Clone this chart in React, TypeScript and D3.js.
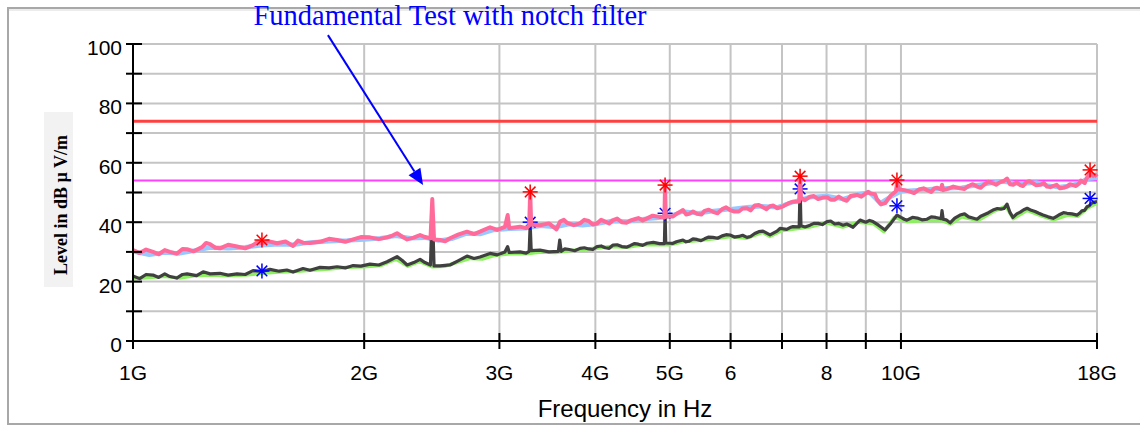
import React from 'react';
import * as d3 from 'd3';

// frequency in GHz, level in dBµV/m
const peakNotch: [number, number][] = [
  [1.0, 30.6], [1.02, 29.6], [1.04, 30.8], [1.062, 30.0], [1.08, 29.2], [1.1, 30.6], [1.117, 30.0],
  [1.14, 29.4], [1.16, 31.0], [1.176, 30.9], [1.2, 30.2], [1.23, 31.6], [1.245, 33.0], [1.26, 32.6],
  [1.28, 31.4], [1.298, 31.2], [1.33, 32.4], [1.366, 31.8], [1.4, 31.2], [1.433, 32.3], [1.455, 33.4],
  [1.472, 32.9], [1.5, 33.6], [1.54, 32.9], [1.58, 33.5], [1.616, 32.0], [1.64, 33.8], [1.665, 33.1],
  [1.7, 33.0], [1.752, 33.4], [1.8, 34.4], [1.844, 34.0], [1.89, 33.4], [1.935, 34.2], [1.98, 35.0],
  [2.035, 34.9], [2.09, 34.3], [2.142, 34.9], [2.18, 35.6], [2.207, 36.3], [2.24, 35.2], [2.275, 34.2],
  [2.32, 34.8], [2.365, 35.7], [2.4, 35.0], [2.44, 34.6], [2.453, 47.8], [2.466, 34.2], [2.511, 34.0],
  [2.55, 33.6], [2.587, 34.6], [2.65, 35.8], [2.722, 36.8], [2.78, 36.0], [2.83, 36.8], [2.917, 38.3],
  [2.98, 37.4], [3.05, 38.4], [3.075, 42.4], [3.09, 38.0], [3.191, 38.5], [3.25, 38.0], [3.28, 38.8],
  [3.29, 50.2], [3.3, 39.2], [3.388, 39.0], [3.48, 39.6], [3.52, 38.6], [3.56, 37.6], [3.598, 40.2],
  [3.64, 40.8], [3.674, 39.8], [3.75, 39.0], [3.82, 39.6], [3.87, 40.8], [3.92, 40.4], [3.97, 39.2],
  [4.02, 39.6], [4.07, 40.8], [4.12, 40.2], [4.17, 39.6], [4.218, 40.7], [4.27, 41.2], [4.33, 40.0],
  [4.39, 39.8], [4.438, 40.5], [4.5, 41.0], [4.55, 41.4], [4.61, 40.6], [4.67, 41.3], [4.75, 42.2],
  [4.85, 41.8], [4.92, 41.6], [4.93, 52.5], [4.94, 42.0], [5.049, 41.9], [5.1, 42.8], [5.202, 44.1],
  [5.25, 42.6], [5.3, 42.8], [5.36, 43.6], [5.425, 42.8], [5.5, 42.6], [5.55, 43.8], [5.62, 44.2],
  [5.692, 43.5], [5.77, 43.0], [5.85, 44.4], [5.92, 45.0], [5.99, 44.1], [6.07, 43.6], [6.15, 43.6],
  [6.22, 44.6], [6.302, 44.7], [6.37, 44.0], [6.45, 45.6], [6.53, 45.8], [6.612, 45.0], [6.68, 44.4],
  [6.75, 45.4], [6.82, 45.6], [6.896, 44.7], [6.97, 45.0], [7.05, 45.6], [7.14, 46.4], [7.235, 46.9],
  [7.37, 47.0], [7.39, 55.8], [7.41, 48.2], [7.5, 47.4], [7.614, 48.6], [7.7, 48.8], [7.8, 47.8],
  [7.9, 48.2], [8.012, 48.4], [8.1, 47.6], [8.2, 47.6], [8.3, 48.6], [8.406, 47.7], [8.5, 47.2],
  [8.6, 48.8], [8.68, 49.0], [8.767, 49.2], [8.88, 48.6], [9.0, 49.7], [9.06, 50.2], [9.116, 49.7],
  [9.25, 49.4], [9.309, 47.6], [9.42, 46.0], [9.535, 46.4], [9.7, 49.0], [9.85, 50.4], [9.883, 53.2],
  [9.95, 51.0], [10.1, 50.8], [10.276, 50.3], [10.4, 49.8], [10.55, 51.0], [10.7, 51.4], [10.813, 50.8],
  [10.95, 50.2], [11.05, 51.4], [11.15, 51.6], [11.28, 51.0], [11.31, 52.6], [11.35, 50.8], [11.5, 51.2],
  [11.7, 52.0], [11.937, 51.4], [12.1, 51.2], [12.25, 52.2], [12.4, 52.8], [12.561, 52.0], [12.7, 51.6],
  [12.85, 52.8], [13.0, 53.6], [13.177, 53.1], [13.3, 52.6], [13.45, 53.4], [13.6, 53.8], [13.743, 54.7],
  [13.87, 52.8], [14.0, 52.6], [14.15, 53.4], [14.289, 52.5], [14.42, 52.2], [14.55, 53.4], [14.7, 53.8],
  [14.857, 53.1], [15.0, 52.4], [15.2, 52.6], [15.35, 53.2], [15.495, 52.0], [15.65, 51.8], [15.8, 52.2],
  [15.95, 52.6], [16.111, 51.4], [16.28, 51.6], [16.45, 52.0], [16.6, 52.8], [16.752, 52.5], [16.9, 52.2],
  [17.05, 53.0], [17.15, 54.0], [17.262, 53.6], [17.35, 53.2], [17.45, 54.8], [17.55, 55.6], [17.628, 57.0],
  [17.8, 55.6], [17.9, 56.0], [18.0, 55.3],
];

const peakFull: [number, number][] = [
  [1.0, 30.2], [1.05, 29.0], [1.1, 29.8], [1.15, 29.5], [1.2, 30.4], [1.26, 31.5], [1.33, 31.2], [1.4, 31.6],
  [1.47, 32.2], [1.55, 32.6], [1.62, 32.4], [1.7, 33.2], [1.8, 33.6], [1.9, 33.8], [2.0, 34.2], [2.1, 34.6],
  [2.2, 35.4], [2.3, 34.6], [2.4, 34.8], [2.5, 33.8], [2.6, 34.4], [2.72, 36.2], [2.83, 36.0], [2.95, 37.4],
  [3.1, 37.8], [3.25, 38.0], [3.4, 38.8], [3.55, 38.4], [3.7, 39.4], [3.85, 39.0], [4.0, 39.4], [4.2, 40.4],
  [4.4, 40.2], [4.6, 41.0], [4.8, 41.4], [5.0, 42.0], [5.2, 43.6], [5.45, 43.0], [5.7, 43.8], [6.0, 44.4],
  [6.3, 45.0], [6.6, 45.4], [6.9, 45.0], [7.2, 46.6], [7.6, 48.4], [8.0, 48.8], [8.4, 47.8], [8.8, 49.4],
  [9.1, 50.0], [9.4, 46.4], [9.7, 48.6], [10.0, 50.4], [10.5, 50.8], [11.0, 51.2], [11.5, 51.4], [12.0, 51.6],
  [12.5, 52.4], [13.0, 53.0], [13.5, 53.8], [14.0, 53.2], [14.5, 53.0], [15.0, 53.4], [15.5, 52.4], [16.0, 51.8],
  [16.5, 52.2], [17.0, 53.0], [17.5, 54.6], [18.0, 55.0],
];

const avgNotch: [number, number][] = [
  [1.0, 21.9], [1.02, 21.0], [1.04, 22.4], [1.062, 22.2], [1.08, 21.4], [1.1, 22.6], [1.117, 21.7],
  [1.14, 21.2], [1.16, 22.4], [1.176, 22.6], [1.21, 22.0], [1.234, 23.3], [1.26, 22.6], [1.298, 22.8],
  [1.33, 22.2], [1.366, 22.6], [1.4, 22.4], [1.433, 23.7], [1.472, 23.4], [1.508, 24.1], [1.55, 23.5],
  [1.586, 23.9], [1.616, 23.2], [1.665, 24.4], [1.7, 23.8], [1.752, 24.8], [1.8, 24.6], [1.844, 25.0],
  [1.89, 24.6], [1.935, 25.4], [1.98, 25.2], [2.035, 25.9], [2.09, 25.6], [2.142, 26.7], [2.207, 28.4],
  [2.24, 27.2], [2.275, 25.6], [2.32, 26.4], [2.365, 27.5], [2.4, 26.4], [2.44, 25.6], [2.453, 45.2],
  [2.466, 25.3], [2.511, 25.3], [2.587, 25.6], [2.65, 27.0], [2.722, 28.6], [2.78, 27.8], [2.83, 28.3],
  [2.917, 29.5], [2.98, 29.0], [3.05, 30.0], [3.075, 31.8], [3.09, 29.8], [3.191, 30.0], [3.25, 29.6],
  [3.28, 30.2], [3.29, 39.4], [3.3, 30.4], [3.388, 30.6], [3.48, 30.0], [3.58, 30.2], [3.595, 34.0],
  [3.61, 30.2], [3.65, 31.0], [3.7, 30.8], [3.76, 30.4], [3.82, 31.2], [3.87, 31.4], [3.92, 31.0],
  [3.97, 30.8], [4.02, 31.8], [4.07, 32.0], [4.12, 31.4], [4.17, 31.2], [4.218, 32.3], [4.27, 32.4],
  [4.33, 31.8], [4.39, 31.6], [4.438, 32.1], [4.5, 32.8], [4.55, 32.6], [4.61, 32.2], [4.67, 32.9],
  [4.76, 33.2], [4.85, 32.8], [4.92, 32.8], [4.93, 43.0], [4.94, 33.0], [5.049, 32.9], [5.1, 33.4],
  [5.202, 34.0], [5.25, 33.4], [5.3, 33.6], [5.36, 34.4], [5.425, 34.2], [5.49, 33.8], [5.55, 34.4],
  [5.62, 35.0], [5.692, 34.9], [5.77, 34.6], [5.85, 35.4], [5.92, 35.8], [5.99, 35.7], [6.07, 35.0],
  [6.15, 35.2], [6.22, 35.6], [6.302, 34.9], [6.37, 35.2], [6.45, 36.2], [6.53, 36.8], [6.612, 37.0],
  [6.753, 35.7], [6.896, 37.0], [6.958, 37.9], [7.1, 37.6], [7.17, 38.2], [7.235, 38.5], [7.37, 38.4],
  [7.39, 52.0], [7.41, 38.8], [7.5, 38.4], [7.614, 39.0], [7.7, 39.6], [7.8, 39.6], [7.9, 39.2],
  [8.012, 40.2], [8.1, 40.4], [8.2, 39.4], [8.3, 39.6], [8.406, 39.0], [8.5, 39.4], [8.663, 38.3],
  [8.76, 39.6], [8.846, 40.7], [9.0, 40.0], [9.1, 40.6], [9.195, 40.2], [9.35, 39.0], [9.535, 37.4],
  [9.7, 39.6], [9.883, 42.4], [10.0, 41.6], [10.1, 41.0], [10.18, 40.7], [10.35, 41.6], [10.5, 41.4],
  [10.65, 40.8], [10.813, 41.0], [10.95, 41.8], [11.1, 41.6], [11.28, 41.2], [11.31, 43.9], [11.35, 41.0],
  [11.45, 40.8], [11.588, 39.8], [11.75, 41.4], [11.937, 42.4], [12.1, 42.8], [12.25, 41.8], [12.4, 41.4],
  [12.561, 41.0], [12.7, 42.0], [12.85, 42.6], [13.0, 43.2], [13.177, 44.1], [13.35, 44.6], [13.5, 44.4],
  [13.62, 44.6], [13.743, 46.1], [13.87, 43.2], [13.99, 41.6], [14.15, 42.8], [14.3, 43.4], [14.45, 44.2],
  [14.6, 44.7], [14.78, 44.0], [14.95, 43.6], [15.12, 43.0], [15.31, 42.4], [15.55, 41.8], [15.78, 41.3],
  [15.95, 42.0], [16.1, 42.6], [16.28, 43.2], [16.46, 43.0], [16.7, 42.8], [16.96, 42.4], [17.08, 43.0],
  [17.2, 43.8], [17.34, 44.0], [17.47, 45.2], [17.6, 45.6], [17.7, 46.4], [17.85, 46.8], [18.0, 46.9],
];

const avgFull: [number, number][] = [
  [1.0, 21.0], [1.05, 21.4], [1.1, 21.8], [1.15, 21.2], [1.2, 22.0], [1.26, 22.2], [1.33, 22.0], [1.4, 22.2],
  [1.47, 22.8], [1.55, 23.2], [1.62, 23.4], [1.7, 23.8], [1.8, 24.2], [1.9, 24.8], [2.0, 25.0], [2.1, 25.4],
  [2.2, 27.6], [2.28, 25.2], [2.36, 26.8], [2.45, 25.0], [2.55, 25.2], [2.65, 26.6], [2.75, 27.8], [2.85, 27.6],
  [2.95, 28.8], [3.1, 29.4], [3.25, 29.4], [3.4, 30.0], [3.55, 29.8], [3.7, 30.4], [3.85, 30.8], [4.0, 31.2],
  [4.2, 31.8], [4.4, 31.6], [4.6, 32.4], [4.8, 32.4], [5.0, 32.4], [5.2, 33.4], [5.45, 33.8], [5.7, 34.4],
  [6.0, 35.2], [6.3, 34.6], [6.6, 36.6], [6.75, 35.2], [7.0, 37.2], [7.3, 37.8], [7.6, 38.4], [8.0, 39.8],
  [8.4, 38.4], [8.8, 40.0], [9.2, 39.6], [9.5, 36.8], [9.8, 41.6], [10.2, 40.2], [10.8, 40.6], [11.3, 40.6],
  [11.6, 39.4], [12.0, 41.8], [12.6, 40.6], [13.2, 43.6], [13.7, 45.4], [14.0, 41.2], [14.6, 44.0], [15.3, 42.0],
  [15.8, 40.8], [16.5, 42.4], [17.0, 42.0], [17.5, 44.8], [18.0, 46.4],
];

const peakMarkers: [number, number][] = [[1.472, 34], [3.29, 50.2], [4.93, 52.5], [7.39, 55.5], [9.88, 54.2], [17.63, 57.6]];
const avgMarkers: [number, number][] = [[1.472, 23.6], [3.29, 40], [4.93, 43], [7.39, 51.2], [9.88, 45.5], [17.63, 48]];

const peakLimit = 74;
const avgLimit = 54;

const xTicks = [1, 2, 3, 4, 5, 6, 7, 8, 9, 10, 18];
const xTickLabels = ['1G', '2G', '3G', '4G', '5G', '6', '', '8', '', '10G', '18G'];
const yTicks = [0, 10, 20, 30, 40, 50, 60, 70, 80, 90, 100];
const yTickLabels = ['0', '', '20', '', '40', '', '60', '', '80', '', '100'];

const title = 'Fundamental Test with notch filter';
const arrowFrom: [number, number] = [1.794, 103];
const arrowTo: [number, number] = [2.386, 52.5];

const x = d3.scaleLog().domain([1, 18]).range([133, 1097]);
const y = d3.scaleLinear().domain([0, 100]).range([341, 44]);

const line = d3
  .line<[number, number]>()
  .x((d) => x(d[0]))
  .y((d) => y(d[1]));

const sans = '"Liberation Sans", Arial, sans-serif';
const serif = '"Liberation Serif", "Times New Roman", serif';

function Star({ cx, cy, color }: { cx: number; cy: number; color: string }) {
  const r = 7.5;
  return (
    <g stroke={color} strokeWidth={1.5}>
      {[0, 45, 90, 135].map((a) => {
        const rad = (a * Math.PI) / 180;
        return (
          <line key={a} x1={cx - r * Math.cos(rad)} y1={cy - r * Math.sin(rad)} x2={cx + r * Math.cos(rad)} y2={cy + r * Math.sin(rad)} />
        );
      })}
    </g>
  );
}

export default function App() {
  const [x0, x1] = x.range();
  const [yb, yt] = y.range();
  const ax = x(arrowFrom[0]);
  const ay = y(arrowFrom[1]);
  const bx = x(arrowTo[0]);
  const by = y(arrowTo[1]);
  const ang = Math.atan2(by - ay, bx - ax);
  const hl = 16;
  const hw = 7;
  const baseX = bx - hl * Math.cos(ang);
  const baseY = by - hl * Math.sin(ang);
  const head = [
    [bx, by],
    [baseX + hw * Math.sin(ang), baseY - hw * Math.cos(ang)],
    [baseX - hw * Math.sin(ang), baseY + hw * Math.cos(ang)],
  ]
    .map((p) => p.join(','))
    .join(' ');

  return (
    <svg width={1140} height={426} style={{ position: 'absolute', left: 0, top: 0 }}>
      <rect x={0} y={0} width={1140} height={426} fill="#fff" />
      <rect x={8} y={8} width={1140} height={416} fill="none" stroke="#a8a8a8" strokeWidth={2} />
      <line x1={9} x2={1140} y1={10} y2={10} stroke="#ececec" strokeWidth={2} />

      {/* grid */}
      <g stroke="#c4c4c4" strokeWidth={2}>
        {yTicks.slice(1).map((t) => (
          <line key={'h' + t} x1={x0} x2={x1} y1={y(t)} y2={y(t)} />
        ))}
        {xTicks.slice(1).map((t) => (
          <line key={'v' + t} x1={x(t)} x2={x(t)} y1={yt} y2={yb} />
        ))}
      </g>

      {/* limits */}
      <line x1={x0} x2={x1} y1={y(peakLimit)} y2={y(peakLimit)} stroke="#ff4040" strokeWidth={3} />
      <line x1={x0} x2={x1} y1={y(avgLimit)} y2={y(avgLimit)} stroke="#ff40ff" strokeWidth={2} />

      {/* traces */}
      <path d={line(peakFull) ?? ''} fill="none" stroke="#99c8ff" strokeWidth={4.5} strokeLinejoin="round" />
      <path d={line(avgFull) ?? ''} fill="none" stroke="#8cf060" strokeWidth={3.5} strokeLinejoin="round" />
      <path d={line(avgNotch) ?? ''} fill="none" stroke="#404040" strokeWidth={3.2} strokeLinejoin="round" />
      {avgMarkers.map((d, i) => (
        <Star key={'a' + i} cx={x(d[0])} cy={y(d[1])} color="#0000ff" />
      ))}
      <path d={line(peakNotch) ?? ''} fill="none" stroke="#ff6a9a" strokeWidth={4} strokeLinejoin="round" />
      {peakMarkers.map((d, i) => (
        <Star key={'p' + i} cx={x(d[0])} cy={y(d[1])} color="#ff0000" />
      ))}

      {/* axes */}
      <g stroke="#000" strokeWidth={2}>
        <line x1={x0} x2={x0} y1={yt} y2={yb} />
        <line x1={x0} x2={x1} y1={yb} y2={yb} />
        {yTicks.map((t) => (
          <line key={'yt' + t} x1={x0 - 7} x2={x0 + 9} y1={y(t)} y2={y(t)} />
        ))}
        {xTicks.map((t) => (
          <line key={'xt' + t} x1={x(t)} x2={x(t)} y1={yb - 8} y2={yb + 8} />
        ))}
      </g>
      <g fontFamily={sans} fontSize={21} fill="#000">
        {yTicks.map((t, i) => (
          <text key={'yl' + t} x={x0 - 11} y={y(t) + 11} textAnchor="end">
            {yTickLabels[i]}
          </text>
        ))}
        {xTicks.map((t, i) => (
          <text key={'xl' + t} x={x(t)} y={380} textAnchor="middle">
            {xTickLabels[i]}
          </text>
        ))}
        <text x={625} y={417} textAnchor="middle" fontSize={24}>
          Frequency in Hz
        </text>
      </g>

      <rect x={44} y={112} width={29} height={175} fill="#f2f2f2" />
      <text
        transform="translate(67,205) rotate(-90)"
        textAnchor="middle"
        fontFamily={serif}
        fontWeight="bold"
        fontSize={18}
        fill="#000"
      >
        Level in dB µ V/m
      </text>

      <text x={450} y={25} textAnchor="middle" fontFamily={serif} fontSize={28.5} fill="#0000ff">
        {title}
      </text>
      <line x1={ax} y1={ay} x2={baseX} y2={baseY} stroke="#0000ff" strokeWidth={2} />
      <polygon points={head} fill="#0000ff" />
    </svg>
  );
}
